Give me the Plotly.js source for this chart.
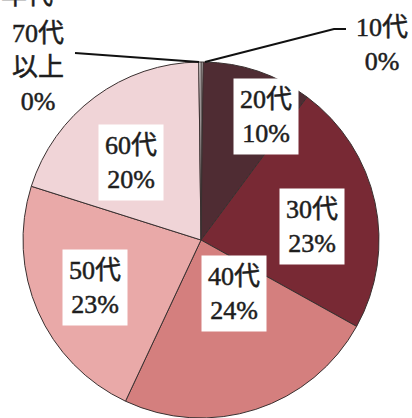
<!DOCTYPE html>
<html>
<head>
<meta charset="utf-8">
<script src="https://cdn.plot.ly/plotly-3.0.1.min.js"></script>
<style>
html,body{margin:0;padding:0;background:#fff;}
#chart{width:412px;height:418px;}
#chart .annotation-text{stroke:#1e1e1e;stroke-width:0.5px;}
</style>
</head>
<body>
<div id="chart"></div>
<script>
// Data
const categories = ["10代", "20代", "30代", "40代", "50代", "60代", "70代以上"];
const values = [0.2, 10, 23, 24, 23, 20, 0.2];
const percentLabels = ["0%", "10%", "23%", "24%", "23%", "20%", "0%"];
const labelNames = ["10代", "20代", "30代", "40代", "50代", "60代", "70代<br>以上"];
const colors = ["#f3eeee", "#4f2c33", "#782934", "#d47f7e", "#e9a9a8", "#f0d4d7", "#f7f3f3"];

// layout helpers (pixel -> paper)
const W = 412, H = 418;
const px = x => x / W;
const py = y => 1 - y / H;

const serif = "Liberation Serif, 'DejaVu Serif', 'Noto Sans CJK JP', serif";

// label placements (pixel centres) for each category
const labelPos = [
  {x: 382, y: 44, box: false},
  {x: 266, y: 116, box: true},
  {x: 312, y: 226, box: true},
  {x: 234, y: 293, box: true},
  {x: 95, y: 287, box: true},
  {x: 131, y: 162, box: true},
  {x: 38, y: 68, box: false}
];

const annotations = categories.map((c, i) => ({
  xref: "paper", yref: "paper",
  x: px(labelPos[i].x), y: py(labelPos[i].y),
  xanchor: "center", yanchor: "middle",
  text: labelNames[i] + "<br>" + percentLabels[i],
  showarrow: false,
  font: {family: serif, size: 26, color: "#1e1e1e"},
  bgcolor: labelPos[i].box ? "#ffffff" : "rgba(0,0,0,0)",
  borderpad: 6
}));

// partially visible text cut at the top edge
annotations.push({
  xref: "paper", yref: "paper", x: px(27), y: py(-4),
  xanchor: "center", yanchor: "middle",
  text: "年代", showarrow: false,
  font: {family: serif, size: 26, color: "#1e1e1e"}
});

const shapes = [
  {type: "path", xref: "paper", yref: "paper",
   path: `M ${px(205)} ${py(62)} L ${px(334)} ${py(29)} L ${px(346)} ${py(29)}`,
   line: {color: "#111", width: 2}},
  {type: "path", xref: "paper", yref: "paper",
   path: `M ${px(75)} ${py(53)} L ${px(199)} ${py(62)}`,
   line: {color: "#111", width: 2}}
];

const trace = {
  type: "pie",
  labels: categories,
  values: values,
  sort: false,
  direction: "clockwise",
  rotation: 0,
  textinfo: "none",
  hoverinfo: "label+percent",
  marker: {colors: colors, line: {color: "#3a3030", width: 1}},
  domain: {x: [px(23), px(379)], y: [py(418), py(62)]},
  showlegend: false
};

const layout = {
  width: W, height: H,
  margin: {l: 0, r: 0, t: 0, b: 0},
  paper_bgcolor: "#ffffff",
  plot_bgcolor: "#ffffff",
  showlegend: false,
  annotations: annotations,
  shapes: shapes
};

Plotly.newPlot("chart", [trace], layout, {displayModeBar: false, staticPlot: true});
</script>
</body>
</html>
